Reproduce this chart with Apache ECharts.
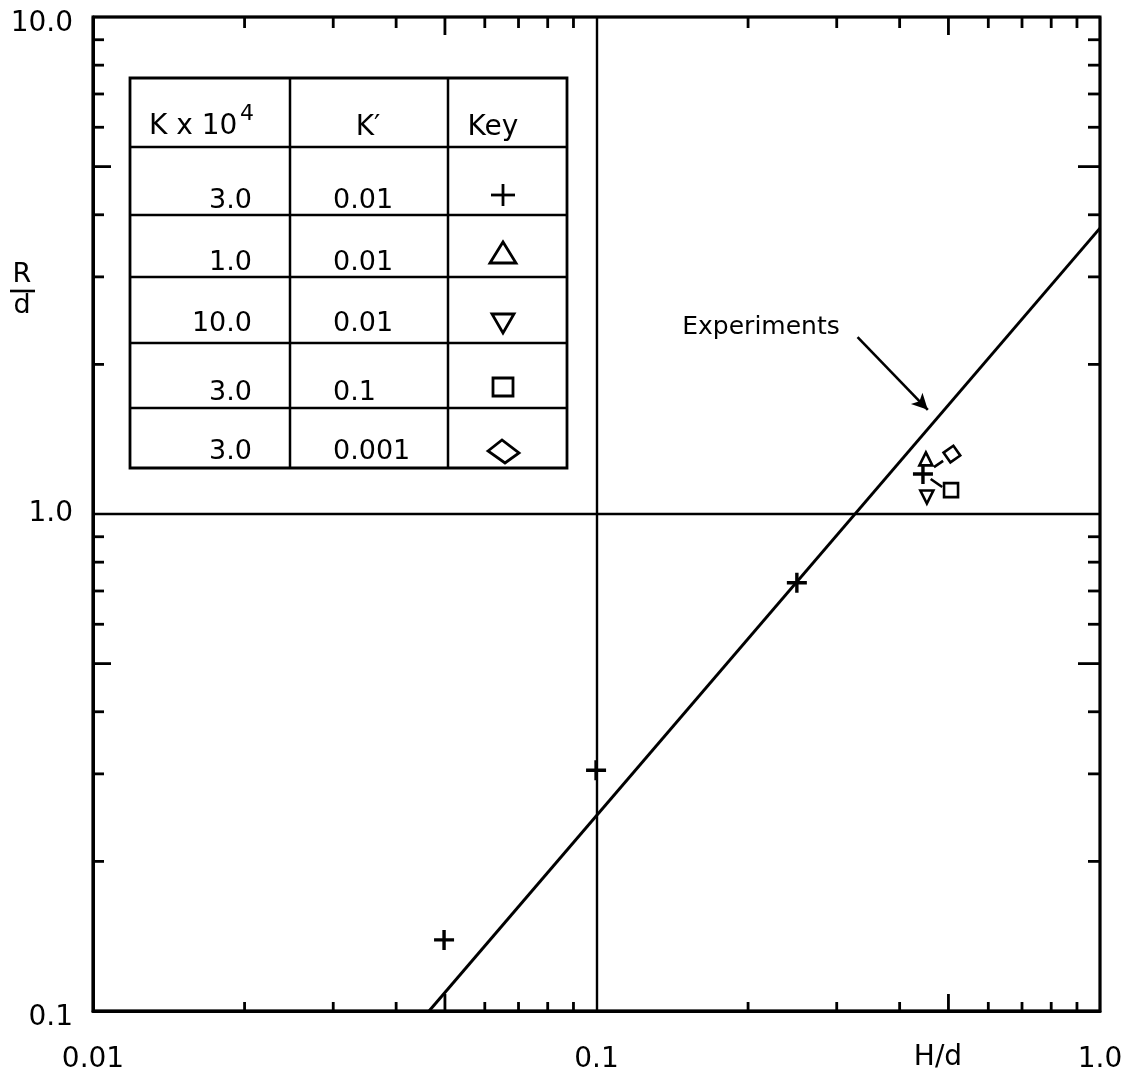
<!DOCTYPE html>
<html><head><meta charset="utf-8">
<script src="https://cdn.jsdelivr.net/npm/echarts@6/dist/echarts.min.js"></script>
<style>html,body{margin:0;padding:0;background:#fff}#c{width:1139px;height:1080px}</style>
</head><body><div id="c"></div>
<script>
const FONT = '"DejaVu Sans", sans-serif';

// ---- data ----
const plusPts     = [[0.0498, 0.139], [0.0998, 0.305], [0.250, 0.727], [0.445, 1.204]];
const triUpPts    = [[0.451, 1.291]];
const triDownPts  = [[0.453, 1.082]];
const squarePts   = [[0.506, 1.117]];
const diamondPts  = [[0.508, 1.320]];
const expLineX    = [0.0465, 1.0];
const expLineY    = [0.1, 3.76];
const leaderA     = [[0.468, 1.243], [0.488, 1.279]];
const leaderB     = [[0.461, 1.176], [0.486, 1.133]];
const arrowFrom   = [0.330, 2.27];
const arrowTo     = [0.455, 1.62];
const xTickLabels = ['0.01', '0.1', '1.0'];
const yTickLabels = ['0.1', '1.0', '10.0'];
const xDecades    = [0.01, 0.1];
const yDecades    = [0.1, 1];
const minorMults  = [2, 3, 4, 5, 6, 7, 8, 9];
const tableHead   = ['K x 10', '4', 'K\u2032', 'Key'];
const kValues     = ['3.0', '1.0', '10.0', '3.0', '3.0'];
const kPrimeVals  = ['0.01', '0.01', '0.01', '0.1', '0.001'];
const keySymbols  = ['plus', 'triUp', 'triDown', 'square', 'diamond'];
const annotation  = 'Experiments';

// ---- build tick marks (side: 0 bottom, 1 top, 2 left, 3 right) ----
const tickData = [];
xDecades.forEach(d => minorMults.forEach(m => {
  const v = +(d * m).toPrecision(3);
  tickData.push([v, 0.1, 0, m === 5 ? 17 : 9]);
  tickData.push([v, 10, 1, m === 5 ? 18 : 11]);
}));
yDecades.forEach(d => minorMults.forEach(m => {
  const v = +(d * m).toPrecision(3);
  tickData.push([0.01, v, 2, m === 5 ? 18 : 11]);
  tickData.push([1, v, 3, m === 5 ? 22 : 12]);
}));

const chart = echarts.init(document.getElementById('c'), null, {renderer: 'canvas'});

const PLUS = 'path://M0,8.3H8.3V0H11.7V8.3H20V11.7H11.7V20H8.3V11.7H0Z';
const hollow = {color: '#fff', borderColor: '#000', borderWidth: 2.6, opacity: 1};

// ---- table (key) graphics ----
const TX = [130, 290, 448, 567];
const TY = [78, 147, 215, 277, 343, 408, 468];
const rowTextY = [201, 263, 324, 393, 452];
const keyY = [195, 253, 323, 387, 451];
const keyX = 503;
const g = [];
const LS = {stroke: '#000', lineWidth: 2.5};
g.push({type: 'rect', shape: {x: TX[0], y: TY[0], width: TX[3] - TX[0], height: TY[6] - TY[0]}, style: {fill: '#fff', stroke: '#000', lineWidth: 2.8}, z: 100});
[TX[1], TX[2]].forEach(x => g.push({type: 'line', shape: {x1: x, y1: TY[0], x2: x, y2: TY[6]}, style: LS, z: 101}));
TY.slice(1, 6).forEach(y => g.push({type: 'line', shape: {x1: TX[0], y1: y, x2: TX[3], y2: y}, style: LS, z: 101}));
function txt(t, x, y, size, align) {
  return {type: 'text', z: 102, style: {text: t, x: x, y: y, font: size + 'px ' + FONT, fill: '#000', textAlign: align || 'center', textVerticalAlign: 'middle'}};
}
g.push(txt(tableHead[0], 149, 127, 28, 'left'));
g.push(txt(tableHead[1], 240, 114, 22, 'left'));
g.push(txt(tableHead[2], 368, 128, 28));
g.push(txt(tableHead[3], 493, 128, 28));
kValues.forEach((v, i) => g.push(txt(v, 252, rowTextY[i], 27, 'right')));
kPrimeVals.forEach((v, i) => g.push(txt(v, 333, rowTextY[i], 27, 'left')));
function keyShape(type, cx, cy) {
  const st = {stroke: '#000', lineWidth: 2.8, fill: 'none'};
  if (type === 'plus') return [
    {type: 'line', z: 102, shape: {x1: cx - 12, y1: cy, x2: cx + 12, y2: cy}, style: st},
    {type: 'line', z: 102, shape: {x1: cx, y1: cy - 11, x2: cx, y2: cy + 11}, style: st}];
  if (type === 'triUp') return [{type: 'polygon', z: 102, shape: {points: [[cx - 13, cy + 10], [cx, cy - 11], [cx + 13, cy + 10]]}, style: st}];
  if (type === 'triDown') return [{type: 'polygon', z: 102, shape: {points: [[cx - 11, cy - 9], [cx + 11, cy - 9], [cx, cy + 10]]}, style: st}];
  if (type === 'square') return [{type: 'rect', z: 102, shape: {x: cx - 10, y: cy - 9, width: 20, height: 18}, style: st}];
  return [{type: 'polygon', z: 102, shape: {points: [[cx - 15, cy], [cx - 1, cy - 11], [cx + 16, cy + 2], [cx + 2, cy + 12]]}, style: st}];
}
keySymbols.forEach((s, i) => keyShape(s, keyX, keyY[i]).forEach(e => g.push(e)));

// other annotations
g.push(txt(annotation, 761, 327, 25));
g.push(txt('H/d', 938, 1058, 28));
g.push(txt('R', 22, 275, 27));
g.push({type: 'line', shape: {x1: 10, y1: 291, x2: 35, y2: 291}, style: {stroke: '#000', lineWidth: 2.6}});
g.push(txt('d', 22, 306, 27));

const option = {
  animation: false,
  backgroundColor: '#fff',
  grid: {left: 93, right: 39, top: 17, bottom: 69, show: true, borderColor: '#000', borderWidth: 3, backgroundColor: 'transparent'},
  xAxis: {
    type: 'log', logBase: 10, min: 0.01, max: 1,
    axisLine: {show: true, lineStyle: {color: '#000', width: 3}},
    axisTick: {show: false}, minorTick: {show: false},
    splitLine: {show: true, lineStyle: {color: '#000', width: 2.4}},
    axisLabel: {color: '#000', fontFamily: FONT, fontSize: 28, margin: 35,
      formatter: v => xTickLabels[Math.round(Math.log10(v)) + 2] || ''}
  },
  yAxis: {
    type: 'log', logBase: 10, min: 0.1, max: 10,
    axisLine: {show: true, lineStyle: {color: '#000', width: 3}},
    axisTick: {show: false}, minorTick: {show: false},
    splitLine: {show: true, lineStyle: {color: '#000', width: 2.4}},
    axisLabel: {color: '#000', fontFamily: FONT, fontSize: 28, margin: 20,
      formatter: v => {
        const i = Math.round(Math.log10(v)) + 1;
        const t = yTickLabels[i] || '';
        return i === 1 ? t : '{e|' + t + '}';
      },
      rich: {e: {fontFamily: FONT, fontSize: 28, color: '#000', padding: [13, 0, 0, 0]}}
    }
  },
  graphic: {elements: g},
  series: [
    {
      type: 'custom', name: 'ticks', data: tickData, clip: false, silent: true, z: 5,
      renderItem: (params, api) => {
        const p = api.coord([api.value(0), api.value(1)]);
        const side = api.value(2), len = api.value(3);
        const d = [[0, -1], [0, 1], [1, 0], [-1, 0]][side];
        return {type: 'line', shape: {x1: p[0], y1: p[1], x2: p[0] + d[0] * len, y2: p[1] + d[1] * len},
          style: {stroke: '#000', lineWidth: 2.8}};
      }
    },
    {
      type: 'line', name: 'Experiments', data: expLineX.map((x, i) => [x, expLineY[i]]),
      symbol: 'none', lineStyle: {color: '#000', width: 3}, z: 6,
      markLine: {
        silent: true, animation: false, symbol: ['none', 'arrow'], symbolSize: [12, 16],
        label: {show: false}, lineStyle: {color: '#000', width: 2.6, type: 'solid'},
        data: [[{coord: arrowFrom}, {coord: arrowTo}]]
      }
    },
    {
      type: 'line', name: 'leaders', data: [], symbol: 'none',
      markLine: {
        silent: true, animation: false, symbol: ['none', 'none'],
        label: {show: false}, lineStyle: {color: '#000', width: 2.6, type: 'solid'},
        data: [[{coord: leaderA[0]}, {coord: leaderA[1]}], [{coord: leaderB[0]}, {coord: leaderB[1]}]]
      }
    },
    {type: 'scatter', name: 'plus', data: plusPts, symbol: PLUS, symbolSize: 20, itemStyle: {color: '#000', opacity: 1}, z: 8},
    {type: 'scatter', name: 'triUp', data: triUpPts, symbol: 'triangle', symbolSize: 13, itemStyle: hollow, z: 8},
    {type: 'scatter', name: 'triDown', data: triDownPts, symbol: 'triangle', symbolRotate: 180, symbolSize: 13, itemStyle: hollow, z: 8},
    {type: 'scatter', name: 'square', data: squarePts, symbol: 'rect', symbolSize: 14, itemStyle: hollow, z: 8},
    {type: 'scatter', name: 'diamond', data: diamondPts, symbol: 'rect', symbolRotate: 35, symbolSize: 12, itemStyle: hollow, z: 8}
  ]
};
chart.setOption(option);
</script></body></html>
